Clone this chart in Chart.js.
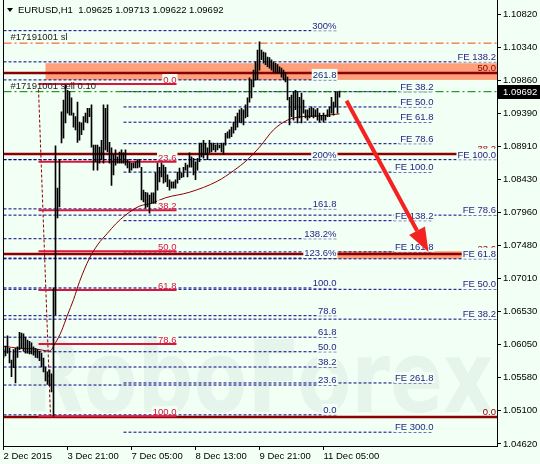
<!DOCTYPE html>
<html>
<head>
<meta charset="utf-8">
<title>EURUSD H1</title>
<script src="https://cdn.jsdelivr.net/npm/chart.js@4.4.1/dist/chart.umd.min.js"></script>
<style>
  html, body { margin: 0; padding: 0; background: #f2fff5; }
  #wrap { width: 540px; height: 464px; }
</style>
</head>
<body>
<div id="wrap"><canvas id="chart" width="540" height="464"></canvas></div>
<script>
// header
const symbol = 'EURUSD,H1';
const headerQuote = ['1.09625', '1.09713', '1.09622', '1.09692'];
const lastPrice = 1.09692;

// axes
const xTickPos = [0, 32, 64, 96, 128, 160];
const xTickLabels = ['2 Dec 2015', '3 Dec 21:00', '7 Dec 05:00', '8 Dec 13:00', '9 Dec 21:00', '11 Dec 05:00'];
const xMax = 246.75;
const yTicks = [1.10820, 1.10340, 1.09860, 1.09390, 1.08910, 1.08430, 1.07960, 1.07480, 1.07010, 1.06530, 1.06050, 1.05580, 1.05100, 1.04620];
const yMin = 1.04591;
const yMax = 1.11022;

// H1 bars, one per hour (high / low)
const barHigh = [
  1.0598, 1.0603, 1.0618, 1.0600, 1.0583, 1.0598, 1.0600, 1.0602, 1.0623, 1.0622,
  1.0621, 1.0616, 1.0612, 1.0610, 1.0608, 1.0602, 1.0600, 1.0598, 1.0596, 1.0593,
  1.0586, 1.0573, 1.0566, 1.0569, 1.0563, 1.0687, 1.0892, 1.0831, 1.0872, 1.0941,
  1.0958, 1.0980, 1.0972, 1.0970, 1.0961, 1.0939, 1.0934, 1.0955, 1.0926, 1.0925,
  1.0934, 1.0939, 1.0946, 1.0946, 1.0951, 1.0893, 1.0893, 1.0893, 1.0890, 1.0900,
  1.0951, 1.0946, 1.0951, 1.0897, 1.0889, 1.0879, 1.0886, 1.0876, 1.0883, 1.0886,
  1.0882, 1.0886, 1.0872, 1.0869, 1.0867, 1.0867, 1.0869, 1.0872, 1.0872, 1.0861,
  1.0828, 1.0825, 1.0824, 1.0821, 1.0824, 1.0824, 1.0853, 1.0867, 1.0861, 1.0867,
  1.0864, 1.0861, 1.0850, 1.0843, 1.0840, 1.0840, 1.0843, 1.0854, 1.0860, 1.0853,
  1.0861, 1.0867, 1.0864, 1.0882, 1.0876, 1.0874, 1.0869, 1.0874, 1.0896, 1.0896,
  1.0900, 1.0896, 1.0889, 1.0900, 1.0896, 1.0896, 1.0893, 1.0896, 1.0893, 1.0896,
  1.0896, 1.0910, 1.0912, 1.0915, 1.0919, 1.0926, 1.0934, 1.0939, 1.0944, 1.0946,
  1.0944, 1.0951, 1.0961, 1.0990, 1.0987, 1.1001, 1.1013, 1.1030, 1.1042, 1.1030,
  1.1027, 1.1026, 1.1020, 1.1019, 1.1016, 1.1013, 1.1011, 1.1009, 1.1006, 1.1004,
  1.1001, 1.0998, 1.0991, 1.0962, 1.0965, 1.0970, 1.0972, 1.0970, 1.0962, 1.0968,
  1.0958, 1.0944, 1.0944, 1.0946, 1.0948, 1.0946, 1.0944, 1.0946, 1.0939, 1.0936,
  1.0939, 1.0936, 1.0944, 1.0948, 1.0962, 1.0955, 1.0970, 1.0970, 1.0971
];
const barLow = [
  1.0586, 1.0589, 1.0593, 1.0579, 1.0559, 1.0572, 1.0550, 1.0587, 1.0598, 1.0600,
  1.0596, 1.0593, 1.0593, 1.0592, 1.0592, 1.0590, 1.0587, 1.0586, 1.0582, 1.0573,
  1.0566, 1.0553, 1.0548, 1.0546, 1.0537, 1.0502, 1.0648, 1.0788, 1.0804, 1.0896,
  1.0903, 1.0925, 1.0939, 1.0936, 1.0936, 1.0919, 1.0915, 1.0897, 1.0900, 1.0908,
  1.0915, 1.0926, 1.0925, 1.0934, 1.0890, 1.0857, 1.0869, 1.0857, 1.0867, 1.0872,
  1.0867, 1.0886, 1.0883, 1.0867, 1.0835, 1.0850, 1.0864, 1.0867, 1.0867, 1.0867,
  1.0867, 1.0864, 1.0860, 1.0854, 1.0857, 1.0860, 1.0860, 1.0860, 1.0861, 1.0814,
  1.0811, 1.0802, 1.0804, 1.0795, 1.0809, 1.0809, 1.0809, 1.0828, 1.0840, 1.0847,
  1.0838, 1.0840, 1.0833, 1.0828, 1.0831, 1.0831, 1.0831, 1.0838, 1.0843, 1.0846,
  1.0847, 1.0857, 1.0847, 1.0861, 1.0861, 1.0850, 1.0843, 1.0857, 1.0869, 1.0876,
  1.0874, 1.0879, 1.0872, 1.0882, 1.0883, 1.0886, 1.0883, 1.0886, 1.0889, 1.0883,
  1.0879, 1.0893, 1.0903, 1.0903, 1.0905, 1.0910, 1.0915, 1.0919, 1.0926, 1.0925,
  1.0922, 1.0932, 1.0934, 1.0955, 1.0961, 1.0977, 1.0987, 1.0987, 1.1001, 1.1016,
  1.1011, 1.1009, 1.1006, 1.1004, 1.1001, 1.0998, 1.0997, 1.0997, 1.0997, 1.0991,
  1.0987, 1.0984, 1.0958, 1.0922, 1.0934, 1.0929, 1.0944, 1.0925, 1.0932, 1.0925,
  1.0939, 1.0932, 1.0929, 1.0932, 1.0934, 1.0932, 1.0934, 1.0929, 1.0926, 1.0929,
  1.0926, 1.0929, 1.0934, 1.0934, 1.0939, 1.0936, 1.0948, 1.0939, 1.0962
];

// moving average, read at a few bars
const maIndex = [0, 8, 16, 23, 26, 29, 32, 35, 38, 43, 47, 52, 56, 61, 68, 74, 81, 93, 107, 115, 122, 128, 135, 142, 149, 157, 168];
const maValue = [1.0603, 1.0600, 1.0599, 1.0596, 1.0608, 1.0625, 1.0648, 1.0670, 1.0696, 1.0730, 1.0749, 1.0766, 1.0779, 1.0792, 1.0805, 1.0809, 1.0817, 1.0825, 1.0841, 1.0856, 1.0872, 1.0890, 1.0915, 1.0929, 1.0934, 1.0935, 1.0938];

// fibo expansion (percent labels)
const pctLevels = [1.1058, 1.0987, 1.0872, 1.0801, 1.0758, 1.0730, 1.0687, 1.0647, 1.0616, 1.0595, 1.0573, 1.0547, 1.0504];
const pctLabels = ['300%', '261.8', '200%', '161.8', '138.2%', '123.6%', '100.0', '78.6', '61.8', '50.0', '38.2', '23.6', '0.0'];
const pctSpan = [0, 166.5];

// FE levels, middle block
const feMidLevels = [1.0970, 1.0948, 1.0926, 1.0895, 1.0854, 1.0784, 1.0739, 1.0550, 1.0479];
const feMidLabels = ['FE 38.2', 'FE 50.0', 'FE 61.8', 'FE 78.6', 'FE 100.0', 'FE 138.2', 'FE 161.8', 'FE 261.8', 'FE 300.0'];
const feMidSpan = [60, 215];

// FE levels, full width
const feRightLevels = [1.1013, 1.0872, 1.0792, 1.0729, 1.0685, 1.0642];
const feRightLabels = ['FE 138.2', 'FE 100.0', 'FE 78.6', 'FE 61.8', 'FE 50.0', 'FE 38.2'];

// fibo retracement, red (left)
const fibLeftLevels = [1.0981, 1.0869, 1.0799, 1.0740, 1.0684, 1.0606, 1.0502];
const fibLeftLabels = ['0.0', '23.6', '38.2', '50.0', '61.8', '78.6', '100.0'];
const fibLeftSpan = [17.5, 86.5];
const fibTrendIndex = [17.5, 23.5];
const fibTrendValue = [1.0973, 1.0502];

// fibo retracement, dark red (full width)
const fibRightLevels = [1.0997, 1.0880, 1.0736, 1.0501];
const fibRightLabels = ['50.0', '38.2', '23.6', '0.0'];

// order lines
const slLevel = 1.1040;
const openLevel = 1.0970;
const slText = '#17191001 sl';
const openText = '#17191001 sell 0.10';

// zones
const zoneTop = [1.1011, 1.0987];
const zoneTopSpan = [21, xMax];
const zoneLow = [1.0740, 1.0729];
const zoneLowSpan = [157.5, 229.5];

// forecast arrow
const arrowIndex = [171.5, 212.5];
const arrowValue = [1.0957, 1.0739];

const BG = '#f2fff5';
const NAVY = '#000080';
const FONT = '"Liberation Sans", Arial, sans-serif';

function level(value, from, to, color, width, dash, order) {
  return {
    type: 'line',
    data: [{ x: from, y: value }, { x: to, y: value }],
    borderColor: color,
    borderWidth: width,
    borderDash: dash,
    pointRadius: 0,
    fill: false,
    order,
  };
}

const datasets = [];
datasets.push({
  type: 'bar',
  data: barHigh.map((h, i) => ({ x: i, y: [barLow[i], h] })),
  backgroundColor: '#000',
  borderWidth: 0,
  barThickness: 1,
  grouped: false,
  order: 1,
});
datasets.push({
  type: 'line',
  data: maIndex.map((x, k) => ({ x, y: maValue[k] })),
  borderColor: '#8b0000',
  borderWidth: 1,
  pointRadius: 0,
  cubicInterpolationMode: 'monotone',
  order: 2,
});
pctLevels.forEach((v) => datasets.push(level(v, pctSpan[0], pctSpan[1], NAVY, 1, [3, 2], 40)));
feMidLevels.forEach((v) => datasets.push(level(v, feMidSpan[0], feMidSpan[1], NAVY, 1, [3, 2], 40)));
feRightLevels.forEach((v) => datasets.push(level(v, 0, xMax, NAVY, 1, [3, 2], 40)));
fibRightLevels.forEach((v, k) => datasets.push(level(v, 0, k === 2 ? zoneLowSpan[1] : xMax, '#8b0000', 2.5, [], 30)));
fibLeftLevels.forEach((v) => datasets.push(level(v, fibLeftSpan[0], fibLeftSpan[1], '#dc143c', 2, [], 20)));
datasets.push({
  type: 'line',
  data: fibTrendIndex.map((x, k) => ({ x, y: fibTrendValue[k] })),
  borderColor: '#8b0000', borderWidth: 1, borderDash: [3, 2], pointRadius: 0, order: 25,
});
datasets.push(level(slLevel, 0, xMax, '#ff4500', 1, [8, 3, 2, 3], 15));
datasets.push(level(openLevel, 0, xMax, '#008000', 1, [8, 3, 2, 3], 15));

// text label, right aligned; the box keeps lines from running through the text
function label(ctx, text, xr, yb, color, boxBottom) {
  ctx.font = '9.5px ' + FONT;
  ctx.textAlign = 'right';
  ctx.textBaseline = 'bottom';
  const w = ctx.measureText(text).width;
  if (boxBottom != null) {
    ctx.fillStyle = BG;
    ctx.fillRect(xr - w - 1, yb - 11, w + 2, 11 - boxBottom);
  }
  ctx.fillStyle = color;
  ctx.fillText(text, xr, yb);
}

const overlays = {
  id: 'overlays',
  beforeDraw(chart) {
    const { ctx } = chart;
    ctx.save();
    ctx.fillStyle = BG;
    ctx.fillRect(0, 0, chart.width, chart.height);
    ctx.restore();
  },
  beforeDatasetsDraw(chart) {
    const { ctx, chartArea: a, scales: { x, y } } = chart;
    ctx.save();
    ctx.beginPath();
    ctx.rect(a.left, a.top, a.right - a.left, a.bottom - a.top);
    ctx.clip();
    // watermark
    ctx.fillStyle = 'rgba(90, 130, 140, 0.08)';
    ctx.font = 'bold 100px "DejaVu Sans", sans-serif';
    ctx.textAlign = 'left';
    ctx.textBaseline = 'alphabetic';
    ctx.fillText('RoboForex', a.left + 20, 412, 470);
    // zones
    ctx.fillStyle = '#ffa07a';
    [[zoneTop, zoneTopSpan], [zoneLow, zoneLowSpan]].forEach(([z, s]) => {
      const x0 = x.getPixelForValue(s[0]);
      const x1 = x.getPixelForValue(s[1]);
      const y0 = y.getPixelForValue(z[0]);
      const y1 = y.getPixelForValue(z[1]);
      ctx.fillRect(x0, y0, x1 - x0, y1 - y0);
    });
    ctx.restore();
  },
  afterDatasetsDraw(chart) {
    const { ctx, chartArea: a, scales: { x, y } } = chart;
    ctx.save();
    // dark red fibo labels first, partly hidden by FE labels
    fibRightLevels.forEach((v, k) => label(ctx, fibRightLabels[k], a.right - 1, y.getPixelForValue(v), '#8b0000', null));
    pctLevels.forEach((v, k) => label(ctx, pctLabels[k], x.getPixelForValue(pctSpan[1]), y.getPixelForValue(v), '#1e1e84', 0));
    feMidLevels.forEach((v, k) => label(ctx, feMidLabels[k], x.getPixelForValue(feMidSpan[1]), y.getPixelForValue(v), '#1e1e84', 0));
    feRightLevels.forEach((v, k) => label(ctx, feRightLabels[k], a.right - 1, y.getPixelForValue(v), '#2a1a80', 0));
    fibLeftLevels.forEach((v, k) => label(ctx, fibLeftLabels[k], x.getPixelForValue(fibLeftSpan[1]), y.getPixelForValue(v) + 1, '#dc143c', 3));

    // order labels
    ctx.font = '9.5px ' + FONT;
    ctx.textAlign = 'left';
    ctx.textBaseline = 'bottom';
    ctx.fillStyle = '#222';
    ctx.fillText(slText, x.getPixelForValue(3.5), y.getPixelForValue(slLevel) - 1);
    ctx.fillText(openText, x.getPixelForValue(3.5), y.getPixelForValue(openLevel) - 1);

    // arrow
    const ax0 = x.getPixelForValue(arrowIndex[0]);
    const ay0 = y.getPixelForValue(arrowValue[0]);
    const ax1 = x.getPixelForValue(arrowIndex[1]);
    const ay1 = y.getPixelForValue(arrowValue[1]);
    const ang = Math.atan2(ay1 - ay0, ax1 - ax0);
    const head = 24;
    const half = 9;
    const bx = ax1 - head * Math.cos(ang);
    const by = ay1 - head * Math.sin(ang);
    ctx.strokeStyle = '#f52222';
    ctx.fillStyle = '#f52222';
    ctx.lineWidth = 4;
    ctx.beginPath();
    ctx.moveTo(ax0, ay0);
    ctx.lineTo(bx, by);
    ctx.stroke();
    ctx.beginPath();
    ctx.moveTo(ax1, ay1);
    ctx.lineTo(bx + half * Math.sin(ang), by - half * Math.cos(ang));
    ctx.lineTo(bx - half * Math.sin(ang), by + half * Math.cos(ang));
    ctx.closePath();
    ctx.fill();
    ctx.restore();
  },
  afterDraw(chart) {
    const { ctx, chartArea: a, scales: { y } } = chart;
    ctx.save();
    // left frame
    ctx.strokeStyle = '#000';
    ctx.lineWidth = 1;
    ctx.beginPath();
    ctx.moveTo(Math.floor(a.left) + 0.5, 0);
    ctx.lineTo(Math.floor(a.left) + 0.5, a.bottom);
    ctx.stroke();
    // header
    ctx.fillStyle = '#000';
    ctx.beginPath();
    ctx.moveTo(7, 8);
    ctx.lineTo(13, 8);
    ctx.lineTo(10, 12);
    ctx.closePath();
    ctx.fill();
    ctx.font = '9.5px ' + FONT;
    ctx.textAlign = 'left';
    ctx.textBaseline = 'middle';
    ctx.fillText(symbol + '  ' + headerQuote.join(' '), 18, 10);
    // current price box
    const py = Math.round(y.getPixelForValue(lastPrice));
    ctx.fillStyle = '#000';
    ctx.fillRect(a.right + 1, py - 7, chart.width - a.right - 1, 14);
    ctx.fillStyle = '#fff';
    ctx.fillText(lastPrice.toFixed(5), a.right + 6, py);
    ctx.restore();
  },
};

new Chart(document.getElementById('chart'), {
  type: 'bar',
  data: { datasets },
  options: {
    responsive: false,
    devicePixelRatio: 1,
    animation: false,
    layout: { padding: { left: 3.5, top: 0, right: 0, bottom: 0 } },
    plugins: { legend: { display: false }, tooltip: { enabled: false } },
    scales: {
      x: {
        type: 'linear',
        min: 0,
        max: xMax,
        offset: false,
        grid: { display: true, drawOnChartArea: false, drawTicks: true, tickLength: 4, color: '#000', offset: false },
        border: { display: true, color: '#000' },
        ticks: {
          autoSkip: false, maxRotation: 0, minRotation: 0, align: 'start', padding: 1,
          color: '#000', font: { family: FONT, size: 9.5 },
          callback: (v, i) => xTickLabels[i],
        },
        afterBuildTicks: (axis) => { axis.ticks = xTickPos.map((v) => ({ value: v })); },
        afterFit: (axis) => { axis.height = 18; axis.paddingLeft = 0; axis.paddingRight = 0; },
      },
      y: {
        type: 'linear',
        position: 'right',
        min: yMin,
        max: yMax,
        grid: { display: true, drawOnChartArea: false, drawTicks: true, tickLength: 4, color: '#000' },
        border: { display: true, color: '#000' },
        ticks: {
          autoSkip: false, padding: 2, color: '#000', font: { family: FONT, size: 9.5 },
          callback: (v) => Number(v).toFixed(5),
        },
        afterBuildTicks: (axis) => { axis.ticks = yTicks.map((v) => ({ value: v })); },
        afterFit: (axis) => { axis.width = 43; axis.paddingTop = 0; axis.paddingBottom = 0; },
      },
    },
  },
  plugins: [overlays],
});
</script>
</body>
</html>
